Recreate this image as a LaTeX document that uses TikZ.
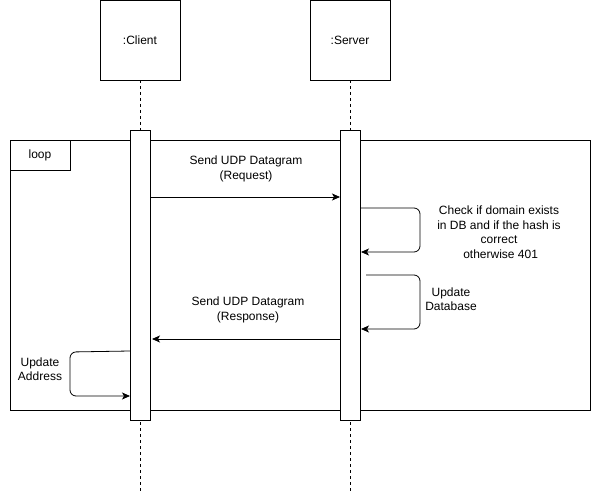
\documentclass[tikz,border=0pt]{standalone}
\usepackage{fontspec}
\setmainfont{Liberation Sans}
\usetikzlibrary{arrows.meta}
\begin{document}
\begin{tikzpicture}[x=1pt,y=-1pt,
  every node/.style={font=\fontsize{12}{14.5}\selectfont, inner sep=0pt, align=center},
  box/.style={draw, line width=0.8pt, fill=white},
  life/.style={draw, dashed, dash pattern=on 3pt off 3pt, line width=0.7pt},
  msg/.style={draw, line width=0.8pt, -{Stealth[length=8pt,width=7pt,inset=2pt]}},
  selfmsg/.style={msg, rounded corners=6pt}]
\useasboundingbox (0,0) rectangle (591,492);
% lifelines
\draw[life] (140,80) -- (140,492);
\draw[life] (350,80) -- (350,492);
% participants
\node[box, minimum width=80pt, minimum height=80pt] (client) at (140,40.5) {:Client};
\node[box, minimum width=80pt, minimum height=80pt] (server) at (350,40.5) {:Server};
% loop frame
\draw[line width=0.8pt] (10,140) rectangle (590,410);
\draw[line width=0.8pt] (10,170) -- (70,170) -- (70,140);
\node (loop) at (40,155) {loop};
% activations
\node[box, minimum width=20pt, minimum height=290pt] (ca) at (140,275) {};
\node[box, minimum width=20pt, minimum height=290pt] (sa) at (350,275) {};
% message 1
\coordinate (m1s) at (150,197);
\coordinate (m1e) at (340,197);
\draw[msg] (m1s) -- (m1e);
\node (l1) at (246,169) {Send UDP Datagram\\(Request)};
% self 1
\coordinate (s1s) at (361,208);
\coordinate (s1e) at (361,252);
\draw[selfmsg] (s1s) -- (420,208) -- (420,252) -- (s1e);
\node (l2) at (499,232) {Check if domain exists\\in DB and if the hash is\\correct\\\ otherwise 401};
% self 2
\coordinate (s2s) at (366,275);
\coordinate (s2e) at (361,329);
\draw[selfmsg] (s2s) -- (420,275) -- (420,329) -- (s2e);
\node (l3) at (451,299) {Update\\Database};
% message 2
\coordinate (m2s) at (340,339);
\coordinate (m2e) at (152,339);
\draw[msg] (m2s) -- (m2e);
\node (l4) at (248,310) {Send UDP Datagram\\(Response)};
% self 3
\coordinate (s3s) at (130,351);
\coordinate (s3e) at (130,396);
\draw[selfmsg] (s3s) -- (70,352) -- (70,396) -- (s3e);
\node (l5) at (40,369) {Update\\Address};
\end{tikzpicture}
\end{document}
